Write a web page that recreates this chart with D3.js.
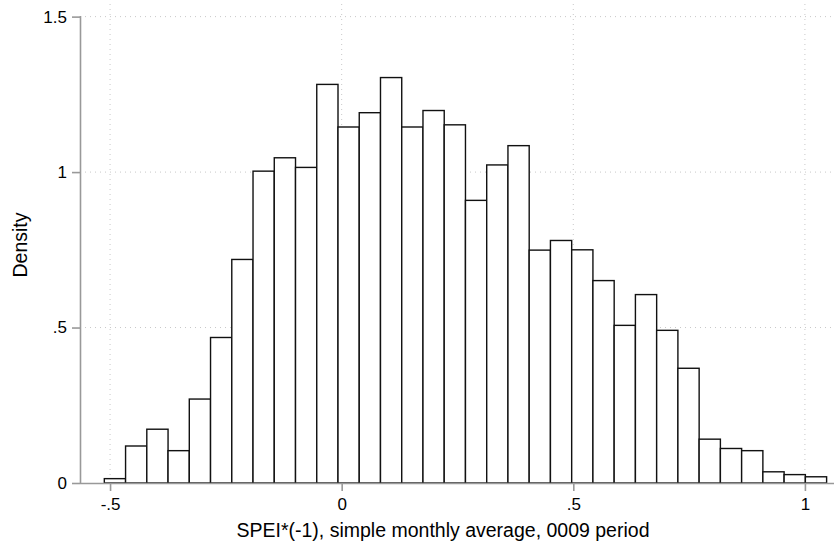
<!DOCTYPE html>
<html>
<head>
<meta charset="utf-8">
<script src="https://cdn.jsdelivr.net/npm/d3@7"></script>
<style>
  body { margin: 0; background: #fff; }
  text { font-family: "Liberation Sans", Arial, sans-serif; fill: #000; }
</style>
</head>
<body>
<div id="chart"></div>
<script>
/** Data. */
const BIN_START = -0.5124;
const BIN_WIDTH = 0.04586;
const DENSITY = [
    0.014, 0.119, 0.173, 0.104, 0.270, 0.468, 0.719, 1.003, 1.046, 1.015,
    1.282, 1.145, 1.191, 1.304, 1.145, 1.198, 1.152, 0.909, 1.023, 1.085,
    0.749, 0.780, 0.750, 0.651, 0.507, 0.606, 0.491, 0.369, 0.141, 0.111,
    0.104, 0.036, 0.027, 0.020
];
const X_TICKS = [-0.5, 0, 0.5, 1];
const X_TICK_LABELS = ["-.5", "0", ".5", "1"];
const Y_TICKS = [0, 0.5, 1, 1.5];
const Y_TICK_LABELS = ["0", ".5", "1", "1.5"];
const X_TITLE = "SPEI*(-1), simple monthly average, 0009 period";
const Y_TITLE = "Density";

const WIDTH = 835;
const HEIGHT = 546;
const MARGIN = {left: 80, right: 1, top: 4, bottom: 63};
const VIEW_WIDTH = WIDTH - MARGIN.left - MARGIN.right;
const VIEW_HEIGHT = HEIGHT - MARGIN.top - MARGIN.bottom;

const bins = DENSITY.map((d, i) => ({
    x0: BIN_START + i * BIN_WIDTH,
    x1: BIN_START + (i + 1) * BIN_WIDTH,
    density: d,
}));

const x = d3.scaleLinear()
    .domain([-0.5649, 1.0628])
    .range([0, VIEW_WIDTH]);
const y = d3.scaleLinear()
    .domain([0, 1.5406])
    .range([VIEW_HEIGHT, 0]);

const svg = d3.select("#chart").append("svg")
    .attr("width", WIDTH)
    .attr("height", HEIGHT);
const g = svg.append("g")
    .attr("transform", `translate(${MARGIN.left},${MARGIN.top})`);

// Dotted grid lines.
const grid = g.append("g").attr("class", "grid");
grid.selectAll("line.h")
    .data(Y_TICKS.slice(1))
    .join("line")
    .attr("x1", 0)
    .attr("x2", VIEW_WIDTH)
    .attr("y1", d => y(d))
    .attr("y2", d => y(d));
grid.selectAll("line.v")
    .data(X_TICKS)
    .join("line")
    .attr("x1", d => x(d))
    .attr("x2", d => x(d))
    .attr("y1", 0)
    .attr("y2", VIEW_HEIGHT);
grid.selectAll("line")
    .attr("stroke", "#c8c8c8")
    .attr("stroke-width", 1)
    .attr("stroke-dasharray", "1,4");

// Bars.
g.append("g")
    .selectAll("rect")
    .data(bins)
    .join("rect")
    .attr("x", d => x(d.x0))
    .attr("width", d => x(d.x1) - x(d.x0))
    .attr("y", d => y(d.density))
    .attr("height", d => y(0) - y(d.density))
    .attr("fill", "#fff")
    .attr("stroke", "#111")
    .attr("stroke-width", 1.4);

// Axes.
const xAxis = d3.axisBottom(x)
    .tickValues(X_TICKS)
    .tickFormat((d, i) => X_TICK_LABELS[i])
    .tickSizeInner(8)
    .tickSizeOuter(0)
    .tickPadding(7);
const yAxis = d3.axisLeft(y)
    .tickValues(Y_TICKS)
    .tickFormat((d, i) => Y_TICK_LABELS[i])
    .tickSizeInner(8)
    .tickSizeOuter(0)
    .tickPadding(5);

const gx = g.append("g")
    .attr("transform", `translate(0,${VIEW_HEIGHT})`)
    .call(xAxis);
const gy = g.append("g")
    .call(yAxis);

[gx, gy].forEach(ax => {
    ax.attr("font-size", null).attr("font-family", null);
    ax.select(".domain").attr("stroke", "#999").attr("stroke-width", 1.6);
    ax.selectAll(".tick line").attr("stroke", "#999").attr("stroke-width", 1.6);
    ax.selectAll(".tick text")
        .style("font-size", "17px")
        .attr("fill", "#000");
});
gx.select(".domain").attr("d", `M0,0.5H${VIEW_WIDTH}`);
gy.select(".domain").attr("d", `M0.5,${VIEW_HEIGHT}V${y(1.5) - 0.5}`);

// Titles.
svg.append("text")
    .attr("x", 443)
    .attr("y", 537)
    .attr("text-anchor", "middle")
    .style("font-size", "19.5px")
    .text(X_TITLE);
svg.append("text")
    .attr("transform", "translate(27,245) rotate(-90)")
    .attr("text-anchor", "middle")
    .style("font-size", "19.5px")
    .text(Y_TITLE);
</script>
</body>
</html>
